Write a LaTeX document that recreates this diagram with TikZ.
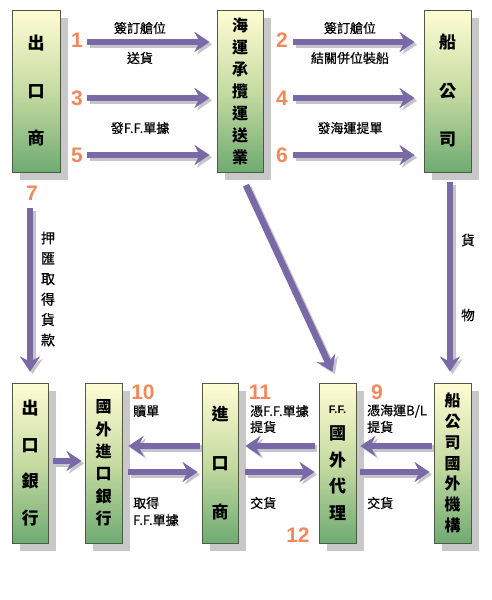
\documentclass[tikz,border=0pt]{standalone}
\usepackage{fontspec}
\setmainfont{Liberation Sans}
\newfontfamily\cjk{Noto Sans CJK TC}
\newfontfamily\cjkm[FakeBold=0.5]{Noto Sans CJK TC}
\usetikzlibrary{arrows.meta,shadows,calc}
\definecolor{arrcol}{HTML}{7A69A7}
\definecolor{arrshd}{HTML}{C4C4CC}
\definecolor{boxtop}{HTML}{FFFCD4}
\definecolor{boxmid}{HTML}{C6DBA2}
\definecolor{boxbot}{HTML}{6FAB72}
\definecolor{boxline}{HTML}{4E5A46}
\definecolor{boxshd}{HTML}{C8C8C8}
\definecolor{numcol}{HTML}{F2895C}
\newcommand\bx[2]{\cjk\bfseries\fontsize{#1}{#2}\selectfont}
\newcommand\parrow[3][]{%
  \begin{scope}[transform canvas={shift={(2.5pt,-2.5pt)}}]
    \draw[arrshadow,#1] #2 -- #3;
  \end{scope}
  \draw[arrmain,#1] #2 -- #3;}
\tikzset{
  box/.style={draw=boxline, line width=0.9pt, top color=boxtop, bottom color=boxbot, middle color=boxmid,
    inner sep=0pt, align=center,
    drop shadow={shadow xshift=8pt, shadow yshift=-8pt, fill=boxshd, opacity=1}},
  arrmain/.style={draw=arrcol, line width=6.5pt, -{Stealth[length=15pt,width=20pt,inset=5pt]}},
  arrshadow/.style={draw=arrshd, line width=6.5pt, -{Stealth[length=15pt,width=20pt,inset=5pt]}},
  lbl/.style={font=\cjkm\fontsize{13}{15}\selectfont, inner sep=0pt},
  num/.style={font=\bfseries\fontsize{21}{21}\selectfont, text=numcol, inner sep=0pt}
}
\begin{document}
\begin{tikzpicture}[x=1pt,y=-1pt]
\useasboundingbox[fill=white] (0,0) rectangle (492,600);
% boxes
\node[box, minimum width=48pt, minimum height=162pt, font=\bx{17}{47.5}] (exp) at (36,91) {出\\口\\商};
\node[box, minimum width=46pt, minimum height=162pt, font=\bx{16}{22}] (ff) at (240,91) {海\\運\\承\\攬\\運\\送\\業};
\node[box, minimum width=47pt, minimum height=162pt, font=\bx{17}{48.5}] (ship) at (447.5,91) {船\\公\\司};
\node[box, minimum width=36pt, minimum height=160pt, font=\bx{17}{36.7}] (bank) at (30,463) {出\\口\\銀\\行};
\node[box, minimum width=37pt, minimum height=160pt, font=\bx{16}{22.4}] (fbank) at (103.5,463) {國\\外\\進\\口\\銀\\行};
\node[box, minimum width=36pt, minimum height=160pt, font=\bx{17}{49}] (imp) at (220,463) {進\\口\\商};
\node[box, minimum width=37pt, minimum height=160pt, font=\bx{17}{26.5}] (agent) at (337.5,463) {{\rmfamily\bfseries\fontsize{11}{11}\selectfont F.F.}\\國\\外\\代\\理};
\node[box, minimum width=37pt, minimum height=160pt, font=\bx{16}{20.8}] (shipf) at (452.5,463) {船\\公\\司\\國\\外\\機\\構};
% row coordinates
\coordinate (r1) at (0,42);
\coordinate (r3) at (0,98);
\coordinate (r5) at (0,155);
\coordinate (bu) at (0,446);
\coordinate (bl) at (0,472);
\coordinate (bm) at (0,461);
\coordinate (cg) at (450,0);
% top arrows
\parrow[shorten <=27pt, shorten >=7pt]{(exp.east |- r1)}{(ff.west |- r1)}
\parrow[shorten <=27pt, shorten >=7pt]{(exp.east |- r3)}{(ff.west |- r3)}
\parrow[shorten <=27pt, shorten >=7pt]{(exp.east |- r5)}{(ff.west |- r5)}
\parrow[shorten <=30pt, shorten >=9pt]{(ff.east |- r1)}{(ship.west |- r1)}
\parrow[shorten <=30pt, shorten >=9pt]{(ff.east |- r3)}{(ship.west |- r3)}
\parrow[shorten <=30pt, shorten >=9pt]{(ff.east |- r5)}{(ship.west |- r5)}
% vertical and diagonal
\parrow[shorten <=36pt, shorten >=11pt]{(exp.south -| bank.north)}{(bank.north)}
\parrow[shorten <=14pt, shorten >=12pt]{(ff.south)}{(agent.north)}
\parrow[shorten <=10pt, shorten >=11pt]{(cg |- ship.south)}{(cg |- shipf.north)}
% bottom arrows
\parrow[shorten <=5pt, shorten >=3pt]{(bank.east |- bm)}{(fbank.west |- bm)}
\parrow[shorten <=2pt, shorten >=6pt]{(imp.west |- bu)}{(fbank.east |- bu)}
\parrow[shorten <=6pt, shorten >=4pt]{(fbank.east |- bl)}{(imp.west |- bl)}
\parrow[shorten <=4pt, shorten >=7pt]{(agent.west |- bu)}{(imp.east |- bu)}
\parrow[shorten <=7pt, shorten >=4pt]{(imp.east |- bl)}{(agent.west |- bl)}
\parrow[shorten <=2pt, shorten >=4pt]{(shipf.west |- bu)}{(agent.east |- bu)}
\parrow[shorten <=4pt, shorten >=4pt]{(agent.east |- bl)}{(shipf.west |- bl)}
% numbers
\node[num] (n1) at (77,40) {1};
\node[num] (n3) at (77,98) {3};
\node[num] (n5) at (77,155) {5};
\node[num] (n2) at (282,40) {2};
\node[num] (n4) at (282,98) {4};
\node[num] (n6) at (282,155) {6};
\node[num] (n7) at (32,193) {7};
\node[num] (n10) at (143,392) {10};
\node[num] (n11) at (260,392) {11};
\node[num] (n9) at (377,392) {9};
\node[num] (n12) at (298,535) {12};
% top labels
\node[lbl] (t1) at (140,28) {簽訂艙位};
\node[lbl] (t2) at (140,58) {送貨};
\node[lbl] (t3) at (140,128) {發F.F.單據};
\node[lbl] (t4) at (350,28) {簽訂艙位};
\node[lbl] (t5) at (350,58) {結關併位裝船};
\node[lbl] (t6) at (350,128) {發海運提單};
% vertical labels
\node[lbl, font=\cjkm\fontsize{14}{20.4}\selectfont, align=center] (v1) at (48,289) {押\\匯\\取\\得\\貨\\款};
\node[lbl, font=\cjkm\fontsize{13.5}{15}\selectfont] (v2) at (468,240) {貨};
\node[lbl, font=\cjkm\fontsize{13.5}{15}\selectfont] (v3) at (468,315) {物};
% bottom labels
\node[lbl, anchor=west] (b1) at (133,411) {贖單};
\node[lbl, anchor=west] (b2) at (133,503) {取得};
\node[lbl, anchor=west] (b3) at (133,520) {F.F.單據};
\node[lbl, anchor=west] (b4) at (250,411) {憑F.F.單據};
\node[lbl, anchor=west] (b5) at (250,427) {提貨};
\node[lbl, anchor=west] (b6) at (250,503) {交貨};
\node[lbl, anchor=west] (b7) at (367,411) {憑海運B/L};
\node[lbl, anchor=west] (b8) at (367,427) {提貨};
\node[lbl, anchor=west] (b9) at (367,503) {交貨};
\end{tikzpicture}
\end{document}
